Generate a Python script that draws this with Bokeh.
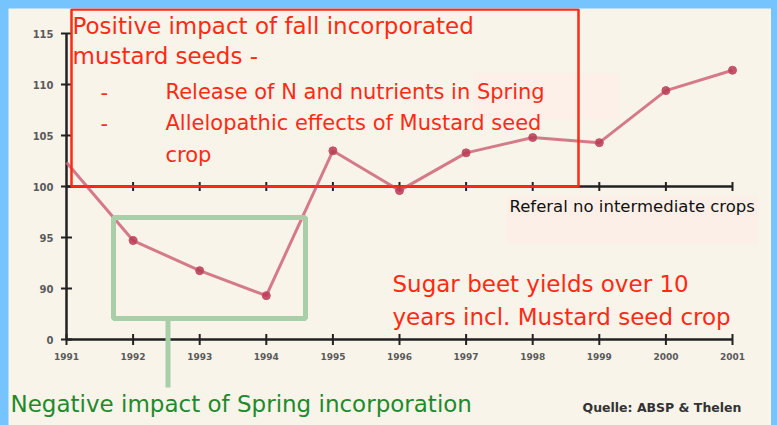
from bokeh.plotting import figure
from bokeh.models import Label, BoxAnnotation, Range1d
from bokeh.embed import file_html
from bokeh.resources import INLINE

# ---- data ----
years = [1991, 1992, 1993, 1994, 1995, 1996, 1997, 1998, 1999, 2000, 2001]
yield_index = [102.35, 94.7, 91.75, 89.3, 103.5, 99.6, 103.3, 104.8, 104.3, 109.4, 111.4]
reference_level = 100
y_ticks = [85, 90, 95, 100, 105, 110, 115]
y_tick_labels = ["0", "90", "95", "100", "105", "110", "115"]
x_tick_labels = [str(y) for y in years]

BG = "#f8f4ea"
BLUE = "#76c4fd"
RED = "#ff2a14"
GREEN_BOX = "#a9cfa9"
GREEN_TXT = "#1f8a2c"
AXIS = "#222222"

W, H = 763, 417
PX_PER_YEAR = 66.6
PX_PER_UNIT = 10.2
Y0 = y_ticks[0]

def X(px):
    # page pixel -> data x  (1991 sits at page x = 66)
    return years[0] + (px - 66) / PX_PER_YEAR

def Y(py):
    # page pixel -> data y  (axis baseline sits at page y = 339)
    return Y0 + (339 - py) / PX_PER_UNIT

p = figure(width=W, height=H, output_backend="svg", toolbar_location=None,
           x_range=Range1d(X(8), X(8 + W)), y_range=Range1d(Y(8 + H), Y(8)),
           x_axis_location=None, y_axis_location=None,
           min_border=0, min_border_left=0, min_border_right=0,
           min_border_top=0, min_border_bottom=0,
           background_fill_color=BG, border_fill_color=BG, outline_line_color=None)
p.grid.visible = False

# faint paper patches behind some texts (as in the scanned slide)
p.add_layout(BoxAnnotation(left=X(506), right=X(758), top=Y(196), bottom=Y(243),
                           fill_color="#fcefe7", fill_alpha=1, line_alpha=0, level="underlay"))
p.add_layout(BoxAnnotation(left=X(473), right=X(618), top=Y(73), bottom=Y(119),
                           fill_color="#fcf0e8", fill_alpha=1, line_alpha=0, level="underlay"))

# ---- axes (drawn in data space) ----
n_y = len(y_ticks)
n_x = len(years)
p.segment(x0=[years[0]], y0=[y_ticks[0]], x1=[years[0]], y1=[y_ticks[-1]],
          line_color=AXIS, line_width=2.5)
p.segment(x0=[years[0]], y0=[y_ticks[0]], x1=[years[-1]], y1=[y_ticks[0]],
          line_color=AXIS, line_width=2.5)
p.scatter([years[0]] * n_y, y_ticks, marker="dash", size=11,
          line_color=AXIS, line_width=2)
p.scatter(years, [y_ticks[0]] * n_x, marker="dash", angle=1.5708, size=11,
          line_color=AXIS, line_width=2)
p.text([years[0]] * n_y, y_ticks, text=y_tick_labels, x_offset=-13,
       text_align="right", text_baseline="middle", text_font_size="10px",
       text_font_style="bold", text_color="#5a5a5a", text_font={"value": "DejaVu Sans"})
p.text(years, [y_ticks[0]] * n_x, text=x_tick_labels, y_offset=13,
       text_align="center", text_baseline="top", text_font_size="9px",
       text_font_style="bold", text_color="#5a5a5a", text_font={"value": "DejaVu Sans"})

# reference line at 100 with tick marks
p.segment(x0=[years[0]], y0=[reference_level], x1=[years[-1]], y1=[reference_level],
          line_color=AXIS, line_width=2.5)
p.scatter(years[1:], [reference_level] * (n_x - 1), marker="dash", angle=1.5708,
          size=9, line_color=AXIS, line_width=2)

# yield line
p.line(years, yield_index, line_color="#cf6478", line_width=3, line_alpha=0.85)
p.scatter(years[1:], yield_index[1:], marker="circle", size=8,
          fill_color="#b83a52", line_color="#c4506a", fill_alpha=0.85)

# green box (spring incorporation years) and connector
p.add_layout(BoxAnnotation(left=X(113), right=X(305), top=Y(217), bottom=Y(318),
                           fill_alpha=0, line_color=GREEN_BOX, line_alpha=1, line_width=5))
p.add_layout(BoxAnnotation(left=X(165), right=X(170), top=Y(318), bottom=Y(387),
                           fill_color=GREEN_BOX, fill_alpha=1, line_alpha=0))

# red box
p.add_layout(BoxAnnotation(left=X(71), right=X(578), top=Y(9), bottom=Y(186),
                           fill_alpha=0, line_color=RED, line_alpha=1, line_width=2.5))

def txt(x, y, s, size, color, style="normal"):
    # y is the visual baseline on the page; compensate the renderer's baseline drop
    p.add_layout(Label(x=X(x), y=Y(y - 0.4 * size), text=s, text_font="DejaVu Sans",
                       text_font_size=f"{size}px", text_color=color,
                       text_baseline="alphabetic", text_align="left",
                       text_font_style=style))

txt(72, 35, "Positive impact of fall incorporated", 23, RED)
txt(72, 65, "mustard seeds -", 23, RED)
txt(100, 100, "-", 21, RED)
txt(165, 100, "Release of N and nutrients in Spring", 21, RED)
txt(100, 131, "-", 21, RED)
txt(165, 131, "Allelopathic effects of Mustard seed", 21, RED)
txt(165, 163, "crop", 21, RED)
txt(509, 213, "Referal  no intermediate crops", 16.5, "#111111")
txt(392, 293, "Sugar beet yields over 10", 23, RED)
txt(392, 326, "years incl. Mustard seed crop", 23, RED)
txt(10, 413, "Negative impact of Spring incorporation", 23, GREEN_TXT)
txt(582, 412, "Quelle: ABSP & Thelen", 12.5, "#333333", "bold")

html = file_html(p, INLINE)
style = ("<style>html,body{background:%s !important;}"
         "body{margin:0 !important;padding:8px !important;box-sizing:border-box;}</style>") % BLUE
html = html.replace("</head>", style + "</head>", 1)
open("out.html", "w").write(html)
